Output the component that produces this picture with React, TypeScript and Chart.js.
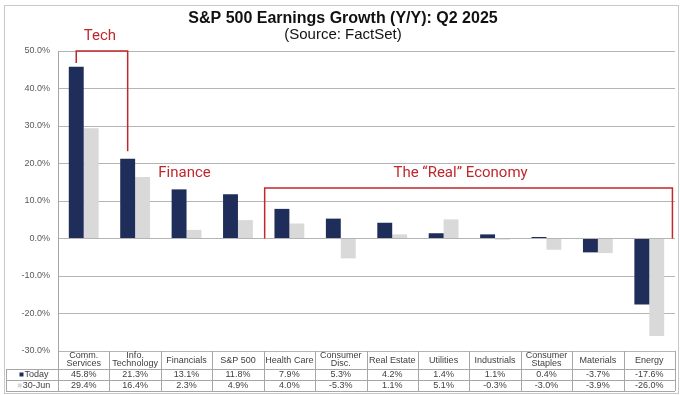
import React, { useEffect, useRef } from "react";
import { Chart, registerables } from "chart.js";

Chart.register(...registerables);

// ---- data ----
const categories: string[][] = [
  ["Comm.", "Services"],
  ["Info.", "Technology"],
  ["Financials"],
  ["S&P 500"],
  ["Health Care"],
  ["Consumer", "Disc."],
  ["Real Estate"],
  ["Utilities"],
  ["Industrials"],
  ["Consumer", "Staples"],
  ["Materials"],
  ["Energy"],
];
const today = [45.8, 21.3, 13.1, 11.8, 7.9, 5.3, 4.2, 1.4, 1.1, 0.4, -3.7, -17.6];
const june30 = [29.4, 16.4, 2.3, 4.9, 4.0, -5.3, 1.1, 5.1, -0.3, -3.0, -3.9, -26.0];
const seriesNames = ["Today", "30-Jun"];
const yMin = -30;
const yMax = 50;
const yStep = 10;
const titleText = "S&P 500 Earnings Growth (Y/Y): Q2 2025";
const subtitleText = "(Source: FactSet)";
const techBracket = { label: "Tech", from: 0, to: 1, top: 50, fromEnd: 46.8, toEnd: 23.3, labelAt: 53.9 };
const financeLabel = { label: "Finance", at: 2, value: 17.3 };
const realBracket = { label: "The \u201CReal\u201D Economy", from: 4, to: 11, top: 13.5, bottom: 0, labelAt: 17.3 };

const NAVY = "#1f2d5a";
const GREY = "#d9d9d9";
const RED = "#c0282d";
const FONT = "'Liberation Sans', Arial, sans-serif";
const ANN_FONT = "Roboto, 'Liberation Sans', Arial, sans-serif";

const fmt = (v: number) => v.toFixed(1) + "%";

const overlayPlugin = {
  id: "overlay",
  afterDraw(chart: any) {
    const ctx = chart.ctx as CanvasRenderingContext2D;
    const xs = chart.scales.x;
    const ys = chart.scales.y;
    const area = chart.chartArea;
    ctx.save();

    // outer border
    ctx.strokeStyle = "#c8c8c8";
    ctx.lineWidth = 1;
    ctx.strokeRect(4.5, 5.5, 674, 388);

    // title
    ctx.fillStyle = "#111";
    ctx.textAlign = "center";
    ctx.textBaseline = "middle";
    ctx.font = `bold 16px ${FONT}`;
    ctx.fillText(titleText, 343, 19);
    ctx.font = `15px ${FONT}`;
    ctx.fillText(subtitleText, 343, 35);

    // table
    const n = categories.length;
    const colW = xs.getPixelForValue(1) - xs.getPixelForValue(0);
    const r0 = area.bottom;
    const r1 = r0 + 18;
    const r2 = r1 + 11;
    const r3 = r2 + 11;
    const tLeft = 6;
    ctx.strokeStyle = "#a6a6a6";
    ctx.lineWidth = 1;
    ctx.beginPath();
    for (let i = 0; i <= n; i++) {
      const bx = Math.round(xs.getPixelForValue(i) - colW / 2) + 0.5;
      ctx.moveTo(bx, r0);
      ctx.lineTo(bx, r3);
    }
    ctx.moveTo(tLeft + 0.5, r1);
    ctx.lineTo(tLeft + 0.5, r3);
    [r1, r2, r3].forEach((ry) => {
      ctx.moveTo(tLeft, Math.round(ry) + 0.5);
      ctx.lineTo(area.right, Math.round(ry) + 0.5);
    });
    ctx.stroke();

    ctx.font = `9px ${FONT}`;
    ctx.fillStyle = "#404040";
    ctx.textAlign = "center";
    for (let i = 0; i < n; i++) {
      const cx = xs.getPixelForValue(i);
      const lines = categories[i];
      if (lines.length === 1) {
        ctx.fillText(lines[0], cx, (r0 + r1) / 2 + 0.5);
      } else {
        ctx.fillText(lines[0], cx, r0 + 5);
        ctx.fillText(lines[1], cx, r0 + 13);
      }
      ctx.fillText(fmt(today[i]), cx, (r1 + r2) / 2 + 0.5);
      ctx.fillText(fmt(june30[i]), cx, (r2 + r3) / 2 + 0.5);
    }
    // legend cells
    const leftEdge = area.left;
    const cellMid = (tLeft + leftEdge) / 2;
    ctx.textAlign = "left";
    const colors = [NAVY, GREY];
    [r1, r2].forEach((ry, k) => {
      const my = ry + 5.5;
      const tw = ctx.measureText(seriesNames[k]).width;
      const start = cellMid - (tw + 5) / 2 + 2;
      ctx.fillStyle = colors[k];
      ctx.fillRect(start, my - 2, 4, 4);
      ctx.fillStyle = "#404040";
      ctx.fillText(seriesNames[k], start + 5, my + 0.5);
    });

    // annotations
    const meta = chart.getDatasetMeta(0);
    ctx.strokeStyle = RED;
    ctx.fillStyle = RED;
    ctx.lineWidth = 1.5;
    // Tech bracket
    const tx0 = meta.data[techBracket.from].x;
    const tx1 = meta.data[techBracket.to].x;
    const tTop = ys.getPixelForValue(techBracket.top);
    ctx.beginPath();
    ctx.moveTo(tx0, ys.getPixelForValue(techBracket.fromEnd));
    ctx.lineTo(tx0, tTop);
    ctx.lineTo(tx1, tTop);
    ctx.lineTo(tx1, ys.getPixelForValue(techBracket.toEnd));
    ctx.stroke();
    ctx.font = `15px ${ANN_FONT}`;
    ctx.textAlign = "center";
    ctx.fillText(techBracket.label, (tx0 + tx1) / 2 - 2, ys.getPixelForValue(techBracket.labelAt));
    // Finance
    ctx.fillText(financeLabel.label, xs.getPixelForValue(financeLabel.at) - 2, ys.getPixelForValue(financeLabel.value));
    // Real economy bracket
    const rx0 = xs.getPixelForValue(realBracket.from) - colW / 2 + 1;
    const rx1 = xs.getPixelForValue(realBracket.to) + colW * 0.45;
    const rTop = ys.getPixelForValue(realBracket.top);
    const rBot = ys.getPixelForValue(realBracket.bottom);
    ctx.beginPath();
    ctx.moveTo(rx0, rBot);
    ctx.lineTo(rx0, rTop);
    ctx.lineTo(rx1, rTop);
    ctx.lineTo(rx1, rBot);
    ctx.stroke();
    ctx.fillText(realBracket.label, (rx0 + rx1) / 2 - 8, ys.getPixelForValue(realBracket.labelAt));

    ctx.restore();
  },
};

export default function App() {
  const ref = useRef<HTMLCanvasElement | null>(null);
  useEffect(() => {
    if (!ref.current) return;
    const chart = new Chart(ref.current, {
      type: "bar",
      data: {
        labels: categories.map((c) => c.join(" ")),
        datasets: [
          { label: seriesNames[0], data: today, backgroundColor: NAVY, categoryPercentage: 0.58, barPercentage: 1 },
          { label: seriesNames[1], data: june30, backgroundColor: GREY, categoryPercentage: 0.58, barPercentage: 1 },
        ],
      },
      options: {
        responsive: false,
        animation: false,
        devicePixelRatio: 1,
        layout: { padding: { top: 51, bottom: 44, left: 0, right: 5 } },
        plugins: { legend: { display: false }, tooltip: { enabled: false }, title: { display: false } },
        scales: {
          x: { display: false },
          y: {
            min: yMin,
            max: yMax,
            afterFit: (s: any) => {
              s.width = 58;
            },
            ticks: {
              stepSize: yStep,
              padding: 8,
              color: "#595959",
              font: { size: 9, family: FONT },
              callback: (v: any) => Number(v).toFixed(1) + "%",
            },
            grid: { color: "#b5b5b5", lineWidth: 1, drawTicks: false },
            border: { display: true, color: "#a6a6a6" },
          },
        },
      },
      plugins: [overlayPlugin],
    });
    return () => chart.destroy();
  }, []);
  return (
    <div style={{ position: "fixed", left: 0, top: 0, width: 680, height: 395, background: "#fff" }}>
      <canvas ref={ref} width={680} height={395} style={{ width: 680, height: 395, display: "block" }} />
    </div>
  );
}
